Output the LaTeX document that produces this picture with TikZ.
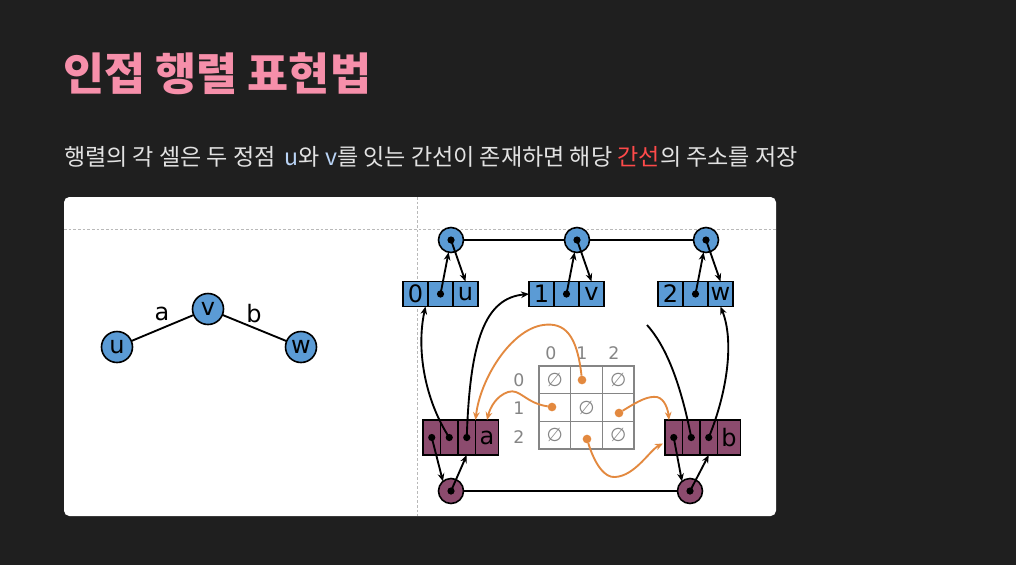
\documentclass[tikz,border=0pt]{standalone}
\usepackage{fontspec}
\setmainfont{DejaVu Sans}
\newfontfamily\krfont{Noto Sans CJK KR}
\usetikzlibrary{arrows.meta,calc,positioning}
\definecolor{bgdark}{HTML}{1F1F1F}
\definecolor{titlepink}{HTML}{F68FAA}
\definecolor{subgray}{HTML}{E2E2E2}
\definecolor{uvblue}{HTML}{B9D3F5}
\definecolor{hired}{HTML}{FF4A4A}
\definecolor{vblue}{HTML}{5B9BD5}
\definecolor{epurple}{HTML}{8C4B6E}
\definecolor{ptrorange}{HTML}{E3893F}
\definecolor{gridgray}{HTML}{858585}

\begin{document}
\begin{tikzpicture}[x=0.75pt, y=-0.75pt,
  every node/.style={font=\fontsize{18}{18}\selectfont, inner sep=0pt, outer sep=0pt},
  vtx/.style={circle, draw, line width=1.2pt, fill=vblue, minimum size=23.25pt},
  hub/.style={circle, draw, line width=1.2pt, minimum size=18.75pt},
  bcell/.style={draw, line width=1.2pt, fill=vblue, minimum width=18.75pt, minimum height=18.75pt},
  pcell/.style={draw, line width=1.2pt, fill=epurple, minimum width=13.125pt, minimum height=26.25pt},
  mcell/.style={draw=gridgray, line width=1pt, minimum width=23.75pt, minimum height=20.8pt},
  mlab/.style={text=gridgray, font=\fontsize{13}{13}\selectfont},
  odot/.style={circle, fill=ptrorange, minimum size=6.5pt},
  edge/.style={line width=1.4pt},
  arr/.style={line width=1.4pt, -{Stealth[length=6pt, width=5pt]}},
  oarr/.style={ptrorange, line width=1.4pt, -{Stealth[length=6pt, width=5pt]}}]
  \fill[bgdark] (0,0) rectangle (1016,565);
  \useasboundingbox (0,0) rectangle (1016,565);

  % title and caption
  \node[anchor=west, text=titlepink, font=\krfont\bfseries\fontsize{33.5}{40}\selectfont] (title) at (63,74) {인접 행렬 표현법};
  \node[anchor=west, text=subgray, font=\krfont\fontsize{17.3}{19}\selectfont] (caption) at (64,157)
    {행렬의 각 셀은 두 정점 \,{\color{uvblue}u}와 {\color{uvblue}v}를 잇는 간선이 존재하면 해당 {\color{hired}간선}의 주소를 저장};

  % panel
  \fill[white, rounded corners=4pt] (64,197) rectangle (776,516);
  \draw[gray!55, line width=0.6pt, dash pattern=on 2pt off 1.5pt] (64,229) -- (776,229);
  \draw[gray!55, line width=0.6pt, dash pattern=on 2pt off 1.5pt] (417,197) -- (417,516);

  % the graph
  \node[vtx] (u) at (117,347) {u};
  \node[vtx] (v) at (208,309) {v};
  \node[vtx] (w) at (301,347) {w};
  \draw[edge] (u) -- (v);
  \draw[edge] (v) -- (w);
  \node (la) at (162,314) {a};
  \node (lb) at (254,314) {b};

  % vertex records
  \foreach \n/\x/\l in {0/403/u,1/529/v,2/658/w} {
    \node[bcell] (k\n0) at (\x+12.5,294) {\n};
    \node[bcell, right=0pt of k\n0] (k\n1) {};
    \node[bcell, right=0pt of k\n1] (k\n2) {\l};
    \fill (k\n1.center) circle (2.7pt);
  }
  \foreach \n/\x in {0/451,1/577,2/706} {
    \node[hub, fill=vblue] (t\n) at (\x,240) {};
    \fill (t\n.center) circle (2.7pt);
    \draw[arr] (k\n1.center) -- (t\n);
    \draw[arr] (t\n.center) -- (k\n2.north);
  }
  \draw[edge] (t0) -- (t1);
  \draw[edge] (t1) -- (t2);

  % edge records
  \foreach \n/\x in {a/423,b/665} {
    \node[pcell] (\n1) at (\x+8.75,437.5) {};
    \node[pcell, right=0pt of \n1] (\n2) {};
    \node[pcell, right=0pt of \n2] (\n3) {};
    \node[pcell, minimum width=17.25pt, right=0pt of \n3] (\n4) {\n};
    \foreach \i in {1,2,3} \fill (\n\i.center) circle (2.7pt);
  }
  \node[hub, fill=epurple] (ea) at (451,491) {};
  \node[hub, fill=epurple] (eb) at (690,491) {};
  \fill (ea.center) circle (2.7pt);
  \fill (eb.center) circle (2.7pt);
  \draw[edge] (ea) -- (eb);
  \draw[arr] (a1.center) -- (ea.130);
  \draw[arr] (ea.center) -- (a3.south);
  \draw[arr] (b1.center) -- (eb.130);
  \draw[arr] (eb.center) -- (b3.south);

  \coordinate (loose) at (647,325);
  \draw[arr] (a2.center) .. controls (425,400) and (416,350) .. ($(k00.south)+(10,0)$);
  \draw[arr] (a3.center) .. controls (470,340) and (485,298) .. (k10.west);
  \draw[edge] (b2.center) .. controls (680,380) and (665,345) .. (loose);
  \draw[arr] (b3.center) .. controls (728,390) and (734,340) .. (k22.south);

  % adjacency matrix
  \foreach \r in {0,1,2}
    \foreach \c in {0,1,2}
      \node[mcell] (m\r\c) at (554.8+31.67*\c,379.8+27.67*\r) {};
  \foreach \r/\c in {0/0,0/2,1/1,2/0,2/2}
    \node[mlab, font=\fontsize{14}{14}\selectfont] (z\r\c) at (m\r\c) {∅};
  \foreach \i/\x in {0/551,1/582,2/614}
    \node[mlab] (h\i) at (\x,353) {\i};
  \foreach \i/\y in {0/380,1/408,2/437}
    \node[mlab] (r\i) at (519,\y) {\i};

  \node[odot] (o01) at (582,380) {};
  \node[odot] (o10) at (552,407) {};
  \node[odot] (o12) at (619,413) {};
  \node[odot] (o21) at (587,439) {};
  \draw[oarr] (o01) .. controls (577,335) and (565,322) .. (543,325) .. controls (510,330) and (480,380) .. (a3.north east);
  \draw[oarr] (o10) .. controls (525,403) and (520,388) .. (508,392) .. controls (496,396) and (490,408) .. (a4.north);
  \draw[oarr] (o12) .. controls (640,400) and (648,396) .. (657,397) .. controls (665,399) and (668,410) .. ($(b1.north west)+(4,0)$);
  \draw[oarr] (o21) .. controls (595,465) and (605,478) .. (615,477) .. controls (635,476) and (650,450) .. ($(b1.west)+(-2,6)$);
\end{tikzpicture}
\end{document}
